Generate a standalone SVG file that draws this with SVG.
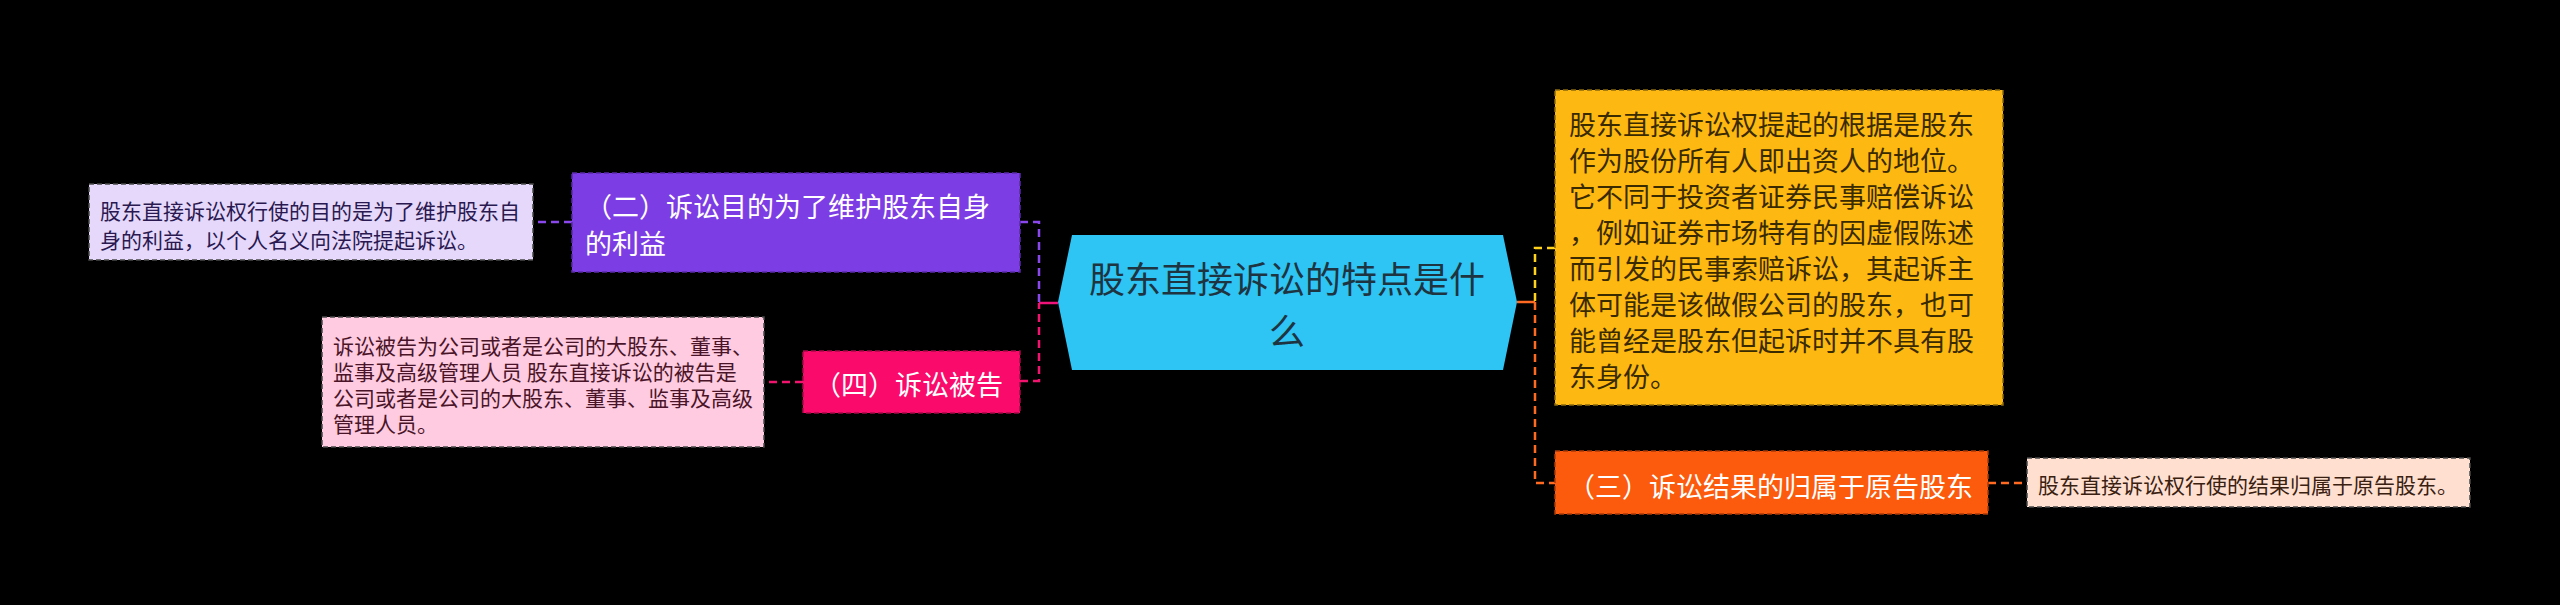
<svg xmlns="http://www.w3.org/2000/svg" width="2560" height="605" viewBox="0 0 2560 605">
<style>
text{font-family:"Noto Sans CJK SC","Noto Sans",sans-serif;dominant-baseline:central}
.c{fill:none;stroke-width:2.5;stroke-dasharray:8 5}
.box{stroke-width:1.5;stroke-dasharray:5 3}
.t27{font-size:27px}
.t21{font-size:21px}
.w{fill:#ffffff}
</style>
<rect width="2560" height="605" fill="#000000"/>
<g id="connectors">
<line x1="1039" y1="303" x2="1058" y2="303" stroke="#f0147a" stroke-width="2.5"/>
<polyline class="c" stroke="#8a48ec" points="1020,222 1039,222 1039,303"/>
<polyline class="c" stroke="#f0146e" points="1020,381 1039,381 1039,303"/>
<line x1="1517" y1="302" x2="1535" y2="302" stroke="#ff6a22" stroke-width="2.5"/>
<polyline class="c" stroke="#ffd21e" points="1555,248 1535,248 1535,302"/>
<polyline class="c" stroke="#ff6a22" points="1535,302 1535,483 1555,483"/>
<line class="c" stroke="#8a48ec" x1="572" y1="222" x2="533" y2="222"/>
<line class="c" stroke="#f0146e" x1="803" y1="382" x2="764" y2="382"/>
<line class="c" stroke="#ff6a22" x1="1988" y1="483" x2="2027" y2="483"/>
</g>
<g id="center">
<polygon points="1072,235 1503,235 1517,302 1503,370 1072,370 1058,302" fill="#2ec4f4"/>
<text x="1287" y="277" font-size="36" fill="#1f3441" text-anchor="middle">股东直接诉讼的特点是什</text>
<text x="1287" y="329" font-size="36" fill="#1f3441" text-anchor="middle">么</text>
</g>
<g id="node-er">
<rect class="box" x="572" y="173" width="448" height="99" fill="#7d3de4" stroke="#5a2aa8"/>
<text class="t27 w" x="585" y="205">（二）诉讼目的为了维护股东自身</text>
<text class="t27 w" x="585" y="242">的利益</text>
</g>
<g id="leaf-er">
<rect class="box" x="89" y="184" width="444" height="76" fill="#e5d8fb" stroke="#4a4a4a"/>
<text class="t21" x="100" y="210" fill="#2a1850">股东直接诉讼权行使的目的是为了维护股东自</text>
<text class="t21" x="100" y="239" fill="#2a1850">身的利益，以个人名义向法院提起诉讼。</text>
</g>
<g id="node-si">
<rect class="box" x="803" y="351" width="217" height="62" fill="#fa0a6a" stroke="#a80848"/>
<text class="t27 w" x="814" y="383">（四）诉讼被告</text>
</g>
<g id="leaf-si">
<rect class="box" x="322" y="317" width="442" height="130" fill="#ffcbe0" stroke="#4a4a4a"/>
<text class="t21" x="333" y="345" fill="#4a1428">诉讼被告为公司或者是公司的大股东、董事、</text>
<text class="t21" x="333" y="371" fill="#4a1428">监事及高级管理人员 股东直接诉讼的被告是</text>
<text class="t21" x="333" y="397" fill="#4a1428">公司或者是公司的大股东、董事、监事及高级</text>
<text class="t21" x="333" y="423" fill="#4a1428">管理人员。</text>
</g>
<g id="node-yi">
<rect class="box" x="1555" y="90" width="448" height="315" fill="#fdb911" stroke="#8a6a10"/>
<text class="t27" x="1569" y="123" fill="#3a2a00">股东直接诉讼权提起的根据是股东</text>
<text class="t27" x="1569" y="159" fill="#3a2a00">作为股份所有人即出资人的地位。</text>
<text class="t27" x="1569" y="195" fill="#3a2a00">它不同于投资者证券民事赔偿诉讼</text>
<text class="t27" x="1569" y="231" fill="#3a2a00">，例如证券市场特有的因虚假陈述</text>
<text class="t27" x="1569" y="267" fill="#3a2a00">而引发的民事索赔诉讼，其起诉主</text>
<text class="t27" x="1569" y="303" fill="#3a2a00">体可能是该做假公司的股东，也可</text>
<text class="t27" x="1569" y="339" fill="#3a2a00">能曾经是股东但起诉时并不具有股</text>
<text class="t27" x="1569" y="375" fill="#3a2a00">东身份。</text>
</g>
<g id="node-san">
<rect class="box" x="1555" y="451" width="433" height="63" fill="#fc5a0c" stroke="#a83a08"/>
<text class="t27 w" x="1568" y="485">（三）诉讼结果的归属于原告股东</text>
</g>
<g id="leaf-san">
<rect class="box" x="2027" y="458" width="443" height="49" fill="#ffe0d0" stroke="#4a4a4a"/>
<text class="t21" x="2038" y="484" fill="#3a2010">股东直接诉讼权行使的结果归属于原告股东。</text>
</g>
</svg>
